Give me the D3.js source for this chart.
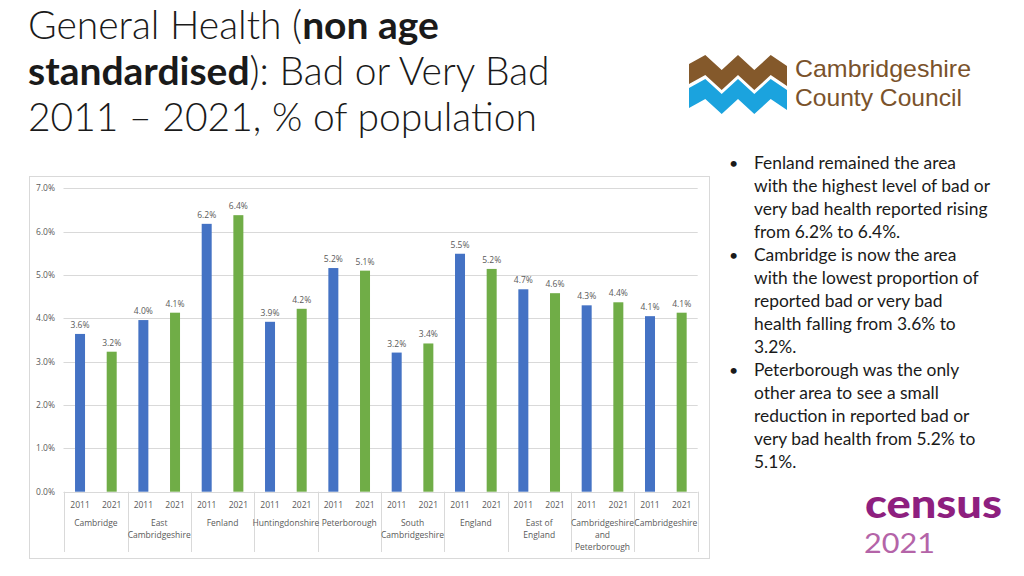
<!DOCTYPE html>
<html>
<head>
<meta charset="utf-8">
<script src="https://cdn.jsdelivr.net/npm/d3@7"></script>
<style>
  html, body { margin: 0; padding: 0; background: #ffffff; }
  svg { display: block; }
</style>
</head>
<body>
<svg id="chart" width="1024" height="576"></svg>
<script>
// ---------- DATA ----------
const categories = ["Cambridge", "East Cambridgeshire", "Fenland", "Huntingdonshire", "Peterborough",
  "South Cambridgeshire", "England", "East of England", "Cambridgeshire and Peterborough", "Cambridgeshire"];
const categoryLines = [["Cambridge"], ["East", "Cambridgeshire"], ["Fenland"], ["Huntingdonshire"], ["Peterborough"],
  ["South", "Cambridgeshire"], ["England"], ["East of", "England"], ["Cambridgeshire", "and", "Peterborough"], ["Cambridgeshire"]];
const years = ["2011", "2021"];
const values2011 = [3.64, 3.96, 6.18, 3.92, 5.16, 3.21, 5.49, 4.67, 4.30, 4.05];
const values2021 = [3.23, 4.13, 6.38, 4.22, 5.10, 3.42, 5.14, 4.58, 4.37, 4.13];
const labels2011 = ["3.6%", "4.0%", "6.2%", "3.9%", "5.2%", "3.2%", "5.5%", "4.7%", "4.3%", "4.1%"];
const labels2021 = ["3.2%", "4.1%", "6.4%", "4.2%", "5.1%", "3.4%", "5.2%", "4.6%", "4.4%", "4.1%"];
const yTicks = [0, 1, 2, 3, 4, 5, 6, 7];
const yTickLabels = ["0.0%", "1.0%", "2.0%", "3.0%", "4.0%", "5.0%", "6.0%", "7.0%"];
const bullets = [
  ["Fenland remained the area", "with the highest level of bad or", "very bad health reported rising", "from 6.2% to 6.4%."],
  ["Cambridge is now the area", "with the lowest proportion of", "reported bad or very bad", "health falling from 3.6% to", "3.2%."],
  ["Peterborough was the only", "other area to see a small", "reduction in reported bad or", "very bad health from 5.2% to", "5.1%."]
];

// ---------- SETUP ----------
const svg = d3.select("#chart");
const font = "'Open Sans', 'Noto Sans', sans-serif";
const axisGray = "#595959";
const gridColor = "#d9d9d9";
const colors = { "2011": "#4472C4", "2021": "#70AD47" };

// Title
const title = svg.append("text").attr("font-family", "Lato, 'Open Sans', sans-serif")
  .attr("font-size", 39).attr("fill", "#1a1a1a").attr("font-weight", 300);
const t1 = title.append("tspan").attr("x", 28).attr("y", 39);
t1.append("tspan").text("General Health (");
t1.append("tspan").attr("font-weight", 700).text("non age");
const t2 = title.append("tspan").attr("x", 28).attr("y", 85);
t2.append("tspan").attr("font-weight", 700).text("standardised");
t2.append("tspan").text("): Bad or Very Bad");
title.append("tspan").attr("x", 28).attr("y", 131).text("2011 \u2013 2021, % of population");

// Chart border
svg.append("rect").attr("x", 29.5).attr("y", 176.5).attr("width", 680).attr("height", 382)
  .attr("fill", "none").attr("stroke", gridColor).attr("stroke-width", 1);

// Scales
const x0 = d3.scaleBand().domain(categories).range([64.2, 697.5]).padding(0);
const x1 = d3.scaleBand().domain(years).range([0, x0.bandwidth()]).padding(0);
const y = d3.scaleLinear().domain([0, 7]).range([491.7, 188.3]);
const barW = 10;

// Gridlines
svg.append("g").selectAll("line").data(yTicks).join("line")
  .attr("x1", 63.5).attr("x2", 697.7)
  .attr("y1", d => Math.round(y(d)) + 0.5).attr("y2", d => Math.round(y(d)) + 0.5)
  .attr("stroke", gridColor).attr("stroke-width", 1);

// Y tick labels
svg.append("g").selectAll("text").data(yTicks).join("text")
  .attr("x", 55).attr("y", d => y(d) + 3)
  .attr("text-anchor", "end").attr("font-family", font).attr("font-size", 8.5).attr("fill", axisGray)
  .text((d, i) => yTickLabels[i]);

// Bars
const rows = [];
categories.forEach((c, i) => {
  rows.push({ cat: c, year: "2011", v: values2011[i], label: labels2011[i] });
  rows.push({ cat: c, year: "2021", v: values2021[i], label: labels2021[i] });
});
const cx = d => x0(d.cat) + x1(d.year) + x1.bandwidth() / 2;
svg.append("g").selectAll("rect").data(rows).join("rect")
  .attr("x", d => cx(d) - barW / 2).attr("width", barW)
  .attr("y", d => y(d.v)).attr("height", d => y(0) - y(d.v))
  .attr("fill", d => colors[d.year]);

// Data labels
svg.append("g").selectAll("text").data(rows).join("text")
  .attr("x", cx).attr("y", d => y(d.v) - 6)
  .attr("text-anchor", "middle").attr("font-family", font).attr("font-size", 8.5).attr("fill", axisGray)
  .text(d => d.label);

// Category separators
const bounds = categories.map(c => x0(c)).concat([x0.range()[1]]);
svg.append("g").selectAll("line").data(bounds).join("line")
  .attr("x1", d => Math.round(d) + 0.5).attr("x2", d => Math.round(d) + 0.5)
  .attr("y1", y(0)).attr("y2", 552)
  .attr("stroke", gridColor).attr("stroke-width", 1);

// Year labels
svg.append("g").selectAll("text").data(rows).join("text")
  .attr("x", cx).attr("y", 508)
  .attr("text-anchor", "middle").attr("font-family", font).attr("font-size", 8.5).attr("fill", axisGray)
  .text(d => d.year);

// Category labels
const catG = svg.append("g").selectAll("text").data(categories).join("text")
  .attr("text-anchor", "middle").attr("font-family", font).attr("font-size", 8.5).attr("fill", axisGray);
catG.each(function (c, i) {
  const t = d3.select(this);
  categoryLines[i].forEach((ln, j) => {
    t.append("tspan").attr("x", x0(c) + x0.bandwidth() / 2).attr("y", 526 + j * 11.8).text(ln);
  });
});

// Bullets
const bfont = "Lato, 'Open Sans', sans-serif";
let lineIdx = 0;
bullets.forEach(b => {
  svg.append("text").attr("x", 729).attr("y", 169 + lineIdx * 23)
    .attr("font-family", bfont).attr("font-size", 16).attr("fill", "#1a1a1a").text("\u2022");
  b.forEach(ln => {
    svg.append("text").attr("x", 754).attr("y", 169 + lineIdx * 23)
      .attr("font-family", bfont).attr("font-size", 17.4).attr("fill", "#1a1a1a").text(ln);
    lineIdx++;
  });
});

// Cambridgeshire County Council logo
const logo = svg.append("g");
const zx = [689, 705.3, 721.7, 738, 754.3, 770.7, 787];
const zTop = [64, 55, 70, 55, 70, 55, 66];
function band(offset, thick) {
  const top = zx.map((x, i) => [x, zTop[i] + offset]);
  const bot = zx.map((x, i) => [x, zTop[i] + offset + thick]).reverse();
  return d3.line()(top.concat(bot)) + "Z";
}
logo.append("path").attr("d", band(0, 20)).attr("fill", "#84592b");
logo.append("path").attr("d", band(24, 20)).attr("fill", "#1ba3de");
logo.append("text").attr("x", 795).attr("y", 77).attr("font-family", "'Liberation Sans', sans-serif")
  .attr("font-size", 24).attr("fill", "#7a522b")
  .attr("textLength", 176).attr("lengthAdjust", "spacingAndGlyphs").text("Cambridgeshire");
logo.append("text").attr("x", 795).attr("y", 106).attr("font-family", "'Liberation Sans', sans-serif")
  .attr("font-size", 24).attr("fill", "#7a522b")
  .attr("textLength", 167).attr("lengthAdjust", "spacingAndGlyphs").text("County Council");

// Census 2021 logo
svg.append("text").attr("x", 865).attr("y", 517.5).attr("font-family", "Lato, sans-serif")
  .attr("font-weight", 900).attr("font-size", 39).attr("fill", "#8e1f7f")
  .attr("textLength", 137).attr("lengthAdjust", "spacingAndGlyphs").text("census");
svg.append("text").attr("x", 864).attr("y", 552.5).attr("font-family", "Lato, sans-serif")
  .attr("font-weight", 400).attr("font-size", 27).attr("fill", "#b464a8")
  .attr("textLength", 71).attr("lengthAdjust", "spacingAndGlyphs").text("2021");
</script>
</body>
</html>
